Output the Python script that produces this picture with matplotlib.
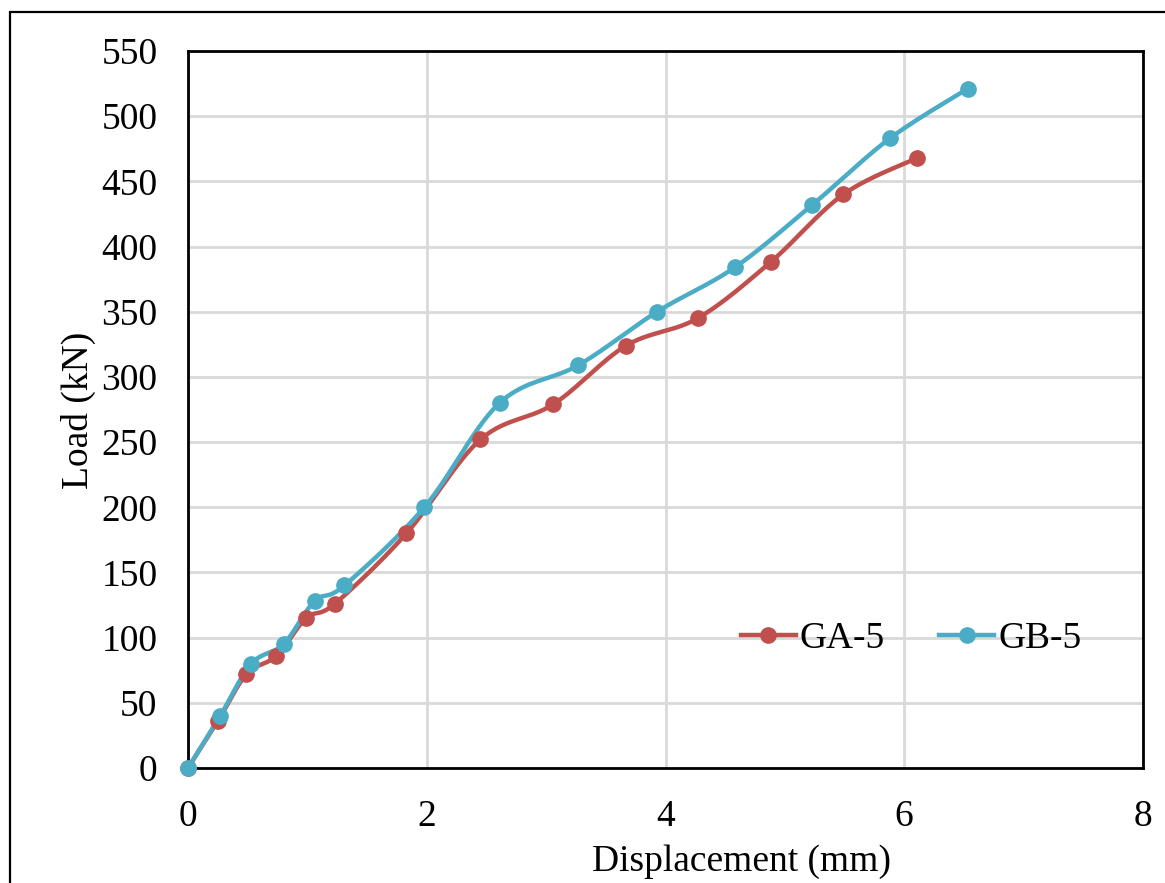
import numpy as np
import matplotlib
matplotlib.use("Agg")
import matplotlib.pyplot as plt
from matplotlib.lines import Line2D
from matplotlib.patches import Rectangle

# Load-displacement readings
ga5_disp = [0.0, 0.25, 0.49, 0.74, 0.99, 1.23, 1.83, 2.45, 3.06, 3.67, 4.27, 4.88, 5.49, 6.11]
ga5_load = [0, 36, 72, 86, 115, 126, 180, 252, 279, 324, 345, 388, 440, 468]

gb5_disp = [0.0, 0.27, 0.53, 0.80, 1.06, 1.31, 1.98, 2.61, 3.27, 3.93, 4.58, 5.23, 5.88, 6.53]
gb5_load = [0, 40, 80, 95, 128, 140, 200, 280, 309, 350, 384, 432, 483, 521]

series_names = ["GA-5", "GB-5"]
series_colors = ["#C0504D", "#4BACC6"]

x_ticks = [0, 2, 4, 6, 8]
y_ticks = list(range(0, 551, 50))


def smooth(xs, ys, n=30):
    """Cardinal (Catmull-Rom style) curve through the points, like a smoothed spreadsheet line."""
    p = np.column_stack([xs, ys]).astype(float)
    ext = np.vstack([p[0], p, p[-1]])
    out = [p[0]]
    t = np.linspace(0, 1, n)[1:]
    for i in range(1, len(ext) - 2):
        p0, p1, p2, p3 = ext[i - 1], ext[i], ext[i + 1], ext[i + 2]
        c1 = p1 + (p2 - p0) / 6.0
        c2 = p2 - (p3 - p1) / 6.0
        tt = t[:, None]
        seg = ((1 - tt) ** 3) * p1 + 3 * ((1 - tt) ** 2) * tt * c1 + 3 * (1 - tt) * tt ** 2 * c2 + tt ** 3 * p2
        out.extend(seg)
    out = np.array(out)
    return out[:, 0], out[:, 1]


plt.rcParams["font.family"] = ["Liberation Serif", "DejaVu Serif"]
FS = 27

fig = plt.figure(figsize=(11.65, 8.83), dpi=100)
ax = fig.add_axes([188 / 1165, 1 - 768 / 883, (1143 - 188) / 1165, (768 - 51) / 883])

# outer frame of the chart area (right/bottom edges fall outside the canvas)
fig.patches.append(Rectangle((10 / 1165, -0.05), 1.2, (883 - 12) / 883 + 0.05,
                             transform=fig.transFigure, fill=False,
                             edgecolor="black", linewidth=1.6, zorder=0))

for xs, ys, name, col in zip([ga5_disp, gb5_disp], [ga5_load, gb5_load], series_names, series_colors):
    sx, sy = smooth(xs, ys)
    ax.plot(sx, sy, color=col, linewidth=3.2, solid_capstyle="round", zorder=3)
    ax.plot(xs, ys, linestyle="none", marker="o", markersize=11, color=col, zorder=4, clip_on=False)

ax.set_xlim(0, 8)
ax.set_ylim(0, 550)
ax.set_xticks(x_ticks)
ax.set_yticks(y_ticks)
ax.grid(True, color="#d9d9d9", linewidth=2)
ax.set_axisbelow(True)
for s in ax.spines.values():
    s.set_linewidth(2)
    s.set_color("black")
ax.tick_params(axis="both", length=0, labelsize=FS)
ax.tick_params(axis="y", pad=22)
ax.tick_params(axis="x", pad=23)

fig.text(741 / 1165, 1 - 862 / 883, "Displacement (mm)", fontsize=FS, ha="center", va="center")
fig.text(78 / 1165, 1 - 410 / 883, "Load (kN)", fontsize=FS, ha="center", va="center", rotation=90)

handles = [Line2D([0], [0], color=c, linewidth=3.2, marker="o", markersize=11) for c in series_colors]
ax.legend(handles, series_names, loc="center",
          bbox_to_anchor=((911 - 188) / (1143 - 188), (768 - 639) / (768 - 51)),
          ncol=2, frameon=False, fontsize=FS, handlelength=1.47, handletextpad=0.1,
          columnspacing=1.45, borderpad=0, borderaxespad=0)

fig.savefig("out.png", dpi=100)
